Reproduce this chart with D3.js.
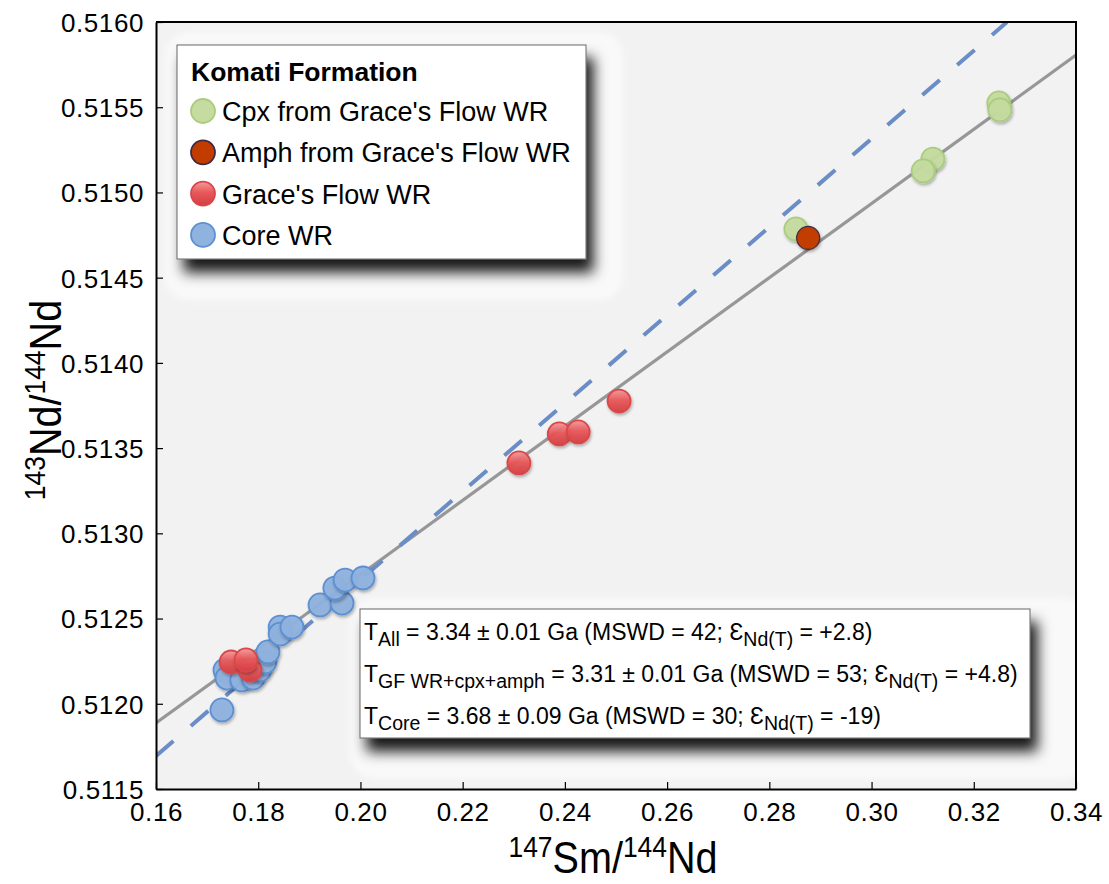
<!DOCTYPE html>
<html>
<head>
<meta charset="utf-8">
<script src="https://cdn.jsdelivr.net/npm/d3@7"></script>
<style>
  body { margin: 0; background: #fff; }
  svg { display: block; font-family: "Liberation Sans", Arial, Helvetica, sans-serif; }
</style>
</head>
<body>
<svg id="chart" width="1109" height="884"></svg>
<script>
// values
const cpx = [[0.3249, 0.515525], [0.3251, 0.515484], [0.3120, 0.515196], [0.3101, 0.515126], [0.2852, 0.514786]];
const amph = [[0.2876, 0.514733]];
const graceWR = [[0.1747, 0.512245], [0.1784, 0.512198], [0.1776, 0.512257],
  [0.2310, 0.513413], [0.2389, 0.513583], [0.2426, 0.513595], [0.2506, 0.513776]];
const coreWR = [[0.1729, 0.511964], [0.1735, 0.512198], [0.1739, 0.512151], [0.1768, 0.512140],
  [0.1790, 0.512151], [0.1803, 0.512198], [0.1813, 0.512245], [0.1819, 0.512304],
  [0.1843, 0.512450], [0.1843, 0.512409], [0.1866, 0.512450], [0.1921, 0.512580],
  [0.1964, 0.512591], [0.1950, 0.512679], [0.1970, 0.512726], [0.2005, 0.512738]];
const allFit = [[0.16, 0.511887], [0.34, 0.515806]];
const coreFit = [[0.16, 0.511694], [0.3265, 0.5160]];
const xTicks = [0.16, 0.18, 0.20, 0.22, 0.24, 0.26, 0.28, 0.30, 0.32, 0.34];
const yTicks = [0.5115, 0.5120, 0.5125, 0.5130, 0.5135, 0.5140, 0.5145, 0.5150, 0.5155, 0.5160];
const legendTitle = 'Komati Formation';
const legendNames = ["Cpx from Grace's Flow WR", "Amph from Grace's Flow WR", "Grace's Flow WR", 'Core WR'];

const pLeft = 156, pRight = 1076, pTop = 22, pBottom = 789;
const svg = d3.select('#chart');

const x = d3.scaleLinear().domain([0.16, 0.34]).range([pLeft, pRight]);
const y = d3.scaleLinear().domain([0.5115, 0.5160]).range([pBottom, pTop]);

const defs = svg.append('defs');
defs.append('clipPath').attr('id', 'plot-clip')
  .append('rect').attr('x', pLeft).attr('y', pTop).attr('width', pRight - pLeft).attr('height', pBottom - pTop);

const boxShadow = defs.append('filter').attr('id', 'box-shadow')
  .attr('x', '-10%').attr('y', '-20%').attr('width', '130%').attr('height', '160%');
boxShadow.append('feDropShadow').attr('dx', 7).attr('dy', 13).attr('stdDeviation', 7)
  .attr('flood-color', '#000').attr('flood-opacity', 0.9);

const glow = defs.append('filter').attr('id', 'glow')
  .attr('x', '-10%').attr('y', '-10%').attr('width', '120%').attr('height', '120%');
glow.append('feGaussianBlur').attr('stdDeviation', 3);

const dotShadow = defs.append('filter').attr('id', 'dot-shadow')
  .attr('x', '-50%').attr('y', '-50%').attr('width', '200%').attr('height', '200%');
dotShadow.append('feDropShadow').attr('dx', 1).attr('dy', 2).attr('stdDeviation', 1.5)
  .attr('flood-color', '#000').attr('flood-opacity', 0.3);

const redGrad = defs.append('linearGradient').attr('id', 'red-grad')
  .attr('x1', 0).attr('y1', 0).attr('x2', 0).attr('y2', 1);
redGrad.append('stop').attr('offset', '0%').attr('stop-color', '#f39a9a');
redGrad.append('stop').attr('offset', '45%').attr('stop-color', '#e8595b');
redGrad.append('stop').attr('offset', '100%').attr('stop-color', '#d43d40');

// plot background
svg.append('rect')
  .attr('x', pLeft).attr('y', pTop).attr('width', pRight - pLeft).attr('height', pBottom - pTop)
  .attr('fill', '#f2f2f2');

// soft panels behind legend and text box
svg.append('rect').attr('x', 165).attr('y', 32).attr('width', 458).attr('height', 268).attr('rx', 24)
  .attr('fill', '#f9f9f9').attr('filter', 'url(#glow)');
svg.append('g').attr('clip-path', 'url(#plot-clip)')
  .append('rect').attr('x', 350).attr('y', 598).attr('width', 738).attr('height', 181).attr('rx', 26)
  .attr('fill', '#f9f9f9').attr('filter', 'url(#glow)');

// regression lines
const line = d3.line().x(d => x(d[0])).y(d => y(d[1]));
const lines = svg.append('g').attr('clip-path', 'url(#plot-clip)');
lines.append('path').datum(allFit).attr('d', line)
  .attr('fill', 'none').attr('stroke', '#979797').attr('stroke-width', 3.2);
lines.append('path').datum(coreFit).attr('d', line)
  .attr('fill', 'none').attr('stroke', '#6a8dc6').attr('stroke-width', 4)
  .attr('stroke-dasharray', '23 23');

const styles = [
  { data: cpx, fill: '#c5dba0', stroke: '#a9cc7e' },
  { data: amph, fill: '#c23c00', stroke: '#3d2b45' },
  { data: graceWR, fill: 'url(#red-grad)', stroke: '#d9474a' },
  { data: coreWR, fill: '#8fb2de', stroke: '#5d90d2' }
];

const dots = svg.append('g').attr('clip-path', 'url(#plot-clip)');
[styles[3], styles[2], styles[0], styles[1]].forEach(s => {
  dots.append('g').selectAll('circle').data(s.data).enter().append('circle')
    .attr('cx', d => x(d[0]))
    .attr('cy', d => y(d[1]))
    .attr('r', 11.5)
    .attr('fill', s.fill)
    .attr('fill-opacity', s.data === amph ? 1 : 0.95)
    .attr('stroke', s.stroke)
    .attr('stroke-width', s.data === amph ? 1.2 : 1.8)
    .attr('filter', 'url(#dot-shadow)');
});

// legend
const legend = svg.append('g').attr('id', 'legend');
legend.append('rect').attr('x', 177).attr('y', 45).attr('width', 409).attr('height', 214)
  .attr('fill', '#fff').attr('stroke', '#666').attr('stroke-width', 1)
  .attr('filter', 'url(#box-shadow)');
legend.append('text').attr('x', 191).attr('y', 81).text(legendTitle)
  .style('font-size', '26.5px').style('font-weight', 'bold');
legendNames.forEach((name, i) => {
  const cy = 111 + i * 41.3;
  legend.append('circle').attr('cx', 203).attr('cy', cy).attr('r', 12)
    .attr('fill', styles[i].fill).attr('stroke', styles[i].stroke).attr('stroke-width', 1.8);
  legend.append('text').attr('x', 222).attr('y', cy + 10).text(name).style('font-size', '27px');
});

// age results box
const stats = svg.append('g').attr('id', 'stats');
stats.append('rect').attr('x', 360).attr('y', 609).attr('width', 670).attr('height', 129)
  .attr('fill', '#fff').attr('stroke', '#666').attr('stroke-width', 1)
  .attr('filter', 'url(#box-shadow)');
const statLines = [
  [['T', 0], ['All', 1], [' = 3.34 \u00b1 0.01 Ga (MSWD = 42; \u0190', 0], ['Nd(T)', 1], [' = +2.8)', 0]],
  [['T', 0], ['GF WR+cpx+amph', 1], [' = 3.31 \u00b1 0.01 Ga (MSWD = 53; \u0190', 0], ['Nd(T)', 1], [' = +4.8)', 0]],
  [['T', 0], ['Core', 1], [' = 3.68 \u00b1 0.09 Ga (MSWD = 30; \u0190', 0], ['Nd(T)', 1], [' = -19)', 0]]
];
statLines.forEach((parts, i) => {
  const t = stats.append('text').attr('x', 364).attr('y', 640 + i * 42).style('font-size', '23px');
  let sub = 0;
  parts.forEach(p => {
    const shift = p[1] ? 6 : 0;
    t.append('tspan').attr('dy', shift - sub).style('font-size', p[1] ? '19.5px' : '23px').text(p[0]);
    sub = shift;
  });
});

// axes
const xAxis = svg.append('g').attr('transform', `translate(0,${pBottom})`)
  .call(d3.axisBottom(x).tickValues(xTicks).tickFormat(d3.format('.2f')).tickSizeInner(-7).tickSizeOuter(0).tickPadding(14));
const yAxis = svg.append('g').attr('transform', `translate(${pLeft},0)`)
  .call(d3.axisLeft(y).tickValues(yTicks).tickFormat(d3.format('.4f')).tickSizeInner(-7).tickSizeOuter(0).tickPadding(12));
[xAxis, yAxis].forEach(a => {
  a.select('.domain').attr('stroke', '#000').attr('stroke-width', 2);
  a.selectAll('.tick line').attr('stroke', '#000').attr('stroke-width', 1.2);
  a.selectAll('.tick text').attr('fill', '#000').style('font-size', '26px')
    .style('letter-spacing', '0.6px').style('font-family', '"Liberation Sans", Arial, sans-serif');
});
xAxis.selectAll('.tick text').attr('dy', '0.71em').attr('y', 14);
yAxis.selectAll('.tick text').attr('dy', '0.36em');

// top and right frame
svg.append('path')
  .attr('d', `M${pLeft},${pTop}H${pRight}V${pBottom}`)
  .attr('fill', 'none').attr('stroke', '#000').attr('stroke-width', 2);

// axis titles (tall, slightly condensed)
function ratioTitle(g, a, b) {
  const t = g.append('text').attr('text-anchor', 'middle').style('font-size', '45px');
  t.append('tspan').attr('dy', -16).style('font-size', '30px').text(a);
  t.append('tspan').attr('dy', 16).text(b + '/');
  t.append('tspan').attr('dy', -16).style('font-size', '30px').text('144');
  t.append('tspan').attr('dy', 16).text('Nd');
}
ratioTitle(svg.append('g').attr('transform', 'translate(613,873) scale(0.88,1)'), '147', 'Sm');
ratioTitle(svg.append('g').attr('transform', 'translate(61,400) rotate(-90) scale(0.88,1)'), '143', 'Nd');
</script>
</body>
</html>
